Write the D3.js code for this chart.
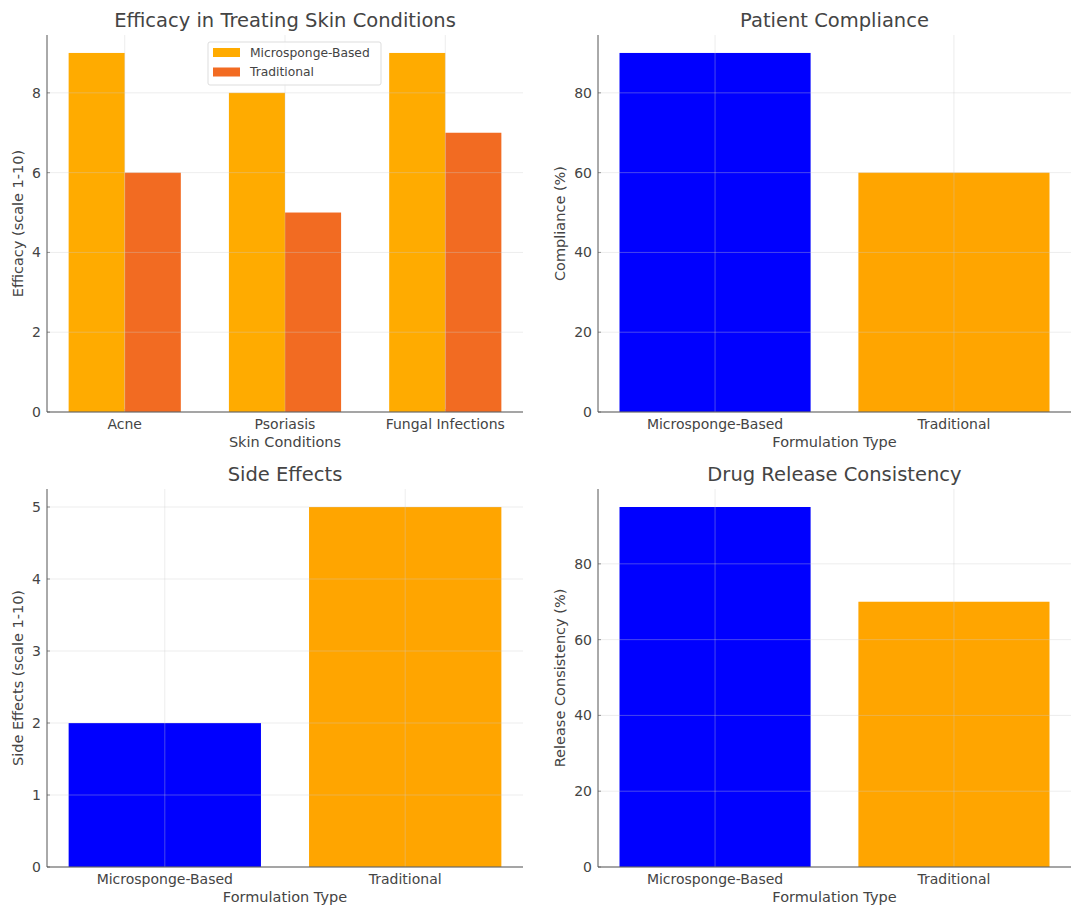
<!DOCTYPE html>
<html>
<head>
<meta charset="utf-8">
<script src="https://cdn.jsdelivr.net/npm/d3@7"></script>
<style>
  body { margin: 0; background: #fff; }
  svg text { font-family: "DejaVu Sans", sans-serif; fill: #444; }
</style>
</head>
<body>
<div id="container"></div>
<script>
// ---- data ----
const conditions = ["Acne", "Psoriasis", "Fungal Infections"];
const efficacyMicro = [9, 8, 9];
const efficacyTrad = [6, 5, 7];
const formulations = ["Microsponge-Based", "Traditional"];
const compliance = [90, 60];
const sideEffects = [2, 5];
const releaseConsistency = [95, 70];

const width = 1084, height = 909;
const svg = d3.select("#container").append("svg")
  .attr("width", width).attr("height", height);

// panel boxes (left, top, right, bottom)
const panels = [
  {x0: 47, x1: 523, y0: 35, y1: 412},
  {x0: 598, x1: 1071, y0: 35, y1: 412},
  {x0: 47, x1: 523, y0: 489, y1: 867},
  {x0: 598, x1: 1071, y0: 489, y1: 867},
];

const tickSize = 14;

const drawFrame = (p, x, y, yTicks, title, xLabel, yLabel, xTickVals, xTickFmt) => {
  const g = svg.append("g");

  // title
  g.append("text")
    .attr("x", (p.x0 + p.x1) / 2).attr("y", p.y0 - 8)
    .attr("text-anchor", "middle").attr("font-size", 19.5)
    .text(title);

  // y ticks
  let maxW = 0;
  yTicks.forEach(t => {
    const txt = g.append("text")
      .attr("x", p.x0 - 6).attr("y", y(t)).attr("dy", "0.35em")
      .attr("text-anchor", "end").attr("font-size", tickSize)
      .text(t);
    maxW = Math.max(maxW, txt.node().getComputedTextLength());
    g.append("line")
      .attr("x1", p.x0).attr("x2", p.x0 + 3)
      .attr("y1", y(t)).attr("y2", y(t))
      .attr("stroke", "#666").attr("stroke-width", 0.8);
  });

  // x ticks
  xTickVals.forEach((v, i) => {
    g.append("text")
      .attr("x", x(v)).attr("y", p.y1 + 12).attr("dy", "0.35em")
      .attr("text-anchor", "middle").attr("font-size", tickSize)
      .text(xTickFmt(v, i));
    g.append("line")
      .attr("x1", x(v)).attr("x2", x(v))
      .attr("y1", p.y1).attr("y2", p.y1 - 3)
      .attr("stroke", "#666").attr("stroke-width", 0.8);
  });

  // axis labels
  g.append("text")
    .attr("x", (p.x0 + p.x1) / 2).attr("y", p.y1 + 35)
    .attr("text-anchor", "middle").attr("font-size", 14.5)
    .text(xLabel);
  const lx = p.x0 - 6 - maxW - 9;
  g.append("text")
    .attr("transform", `translate(${lx},${(p.y0 + p.y1) / 2}) rotate(-90)`)
    .attr("text-anchor", "middle").attr("font-size", 14.5)
    .text(yLabel);
  return g;
};

const drawGridAndSpines = (p, x, y, yTicks, xTickVals) => {
  const g = svg.append("g");
  yTicks.forEach(t => {
    g.append("line")
      .attr("x1", p.x0).attr("x2", p.x1)
      .attr("y1", y(t)).attr("y2", y(t))
      .attr("stroke", "#ccc").attr("stroke-opacity", 0.35).attr("stroke-width", 1);
  });
  xTickVals.forEach(v => {
    g.append("line")
      .attr("x1", x(v)).attr("x2", x(v))
      .attr("y1", p.y0).attr("y2", p.y1)
      .attr("stroke", "#ccc").attr("stroke-opacity", 0.35).attr("stroke-width", 1);
  });
  g.append("line")
    .attr("x1", p.x0).attr("x2", p.x0).attr("y1", p.y0).attr("y2", p.y1)
    .attr("stroke", "#555").attr("stroke-width", 1);
  g.append("line")
    .attr("x1", p.x0).attr("x2", p.x1).attr("y1", p.y1).attr("y2", p.y1)
    .attr("stroke", "#555").attr("stroke-width", 1);
};

// ---------- Panel 1: grouped bars ----------
{
  const p = panels[0];
  const barW = 0.35;
  const x = d3.scaleLinear().domain([-0.485, 2.485]).range([p.x0, p.x1]);
  const y = d3.scaleLinear().domain([0, 9.45]).range([p.y1, p.y0]);
  const yTicks = [0, 2, 4, 6, 8];
  const idx = d3.range(conditions.length);

  drawFrame(p, x, y, yTicks, "Efficacy in Treating Skin Conditions",
    "Skin Conditions", "Efficacy (scale 1-10)", idx, (v, i) => conditions[i]);

  const series = [
    {name: "Microsponge-Based", values: efficacyMicro, color: "#FFAB00", off: -barW / 2},
    {name: "Traditional", values: efficacyTrad, color: "#F26B22", off: barW / 2},
  ];
  series.forEach(s => {
    svg.append("g").selectAll("rect")
      .data(s.values)
      .join("rect")
      .attr("x", (d, i) => x(i + s.off - barW / 2))
      .attr("width", x(barW) - x(0))
      .attr("y", d => y(d))
      .attr("height", d => y(0) - y(d))
      .attr("fill", s.color);
  });

  drawGridAndSpines(p, x, y, yTicks, idx);

  // legend
  const lg = svg.append("g").attr("transform", "translate(208,42)");
  lg.append("rect").attr("width", 173).attr("height", 43)
    .attr("fill", "#fff").attr("fill-opacity", 0.85)
    .attr("stroke", "#ddd").attr("rx", 2);
  series.forEach((s, i) => {
    lg.append("rect").attr("x", 5).attr("y", 6 + i * 19.5)
      .attr("width", 27).attr("height", 9).attr("fill", s.color);
    lg.append("text").attr("x", 42).attr("y", 10.5 + i * 19.5).attr("dy", "0.35em")
      .attr("font-size", 12.3).text(s.name);
  });
}

// ---------- Simple bar panels ----------
const simplePanel = (p, values, yMax, yTicks, title, yLabel) => {
  const barW = 0.8;
  const x = d3.scaleLinear().domain([-0.49, 1.49]).range([p.x0, p.x1]);
  const y = d3.scaleLinear().domain([0, yMax]).range([p.y1, p.y0]);
  const idx = d3.range(formulations.length);
  const colors = ["#0000FF", "#FFA500"];

  drawFrame(p, x, y, yTicks, title, "Formulation Type", yLabel, idx, (v, i) => formulations[i]);

  svg.append("g").selectAll("rect")
    .data(values)
    .join("rect")
    .attr("x", (d, i) => x(i - barW / 2))
    .attr("width", x(barW) - x(0))
    .attr("y", d => y(d))
    .attr("height", d => y(0) - y(d))
    .attr("fill", (d, i) => colors[i]);

  drawGridAndSpines(p, x, y, yTicks, idx);
};

simplePanel(panels[1], compliance, 94.5, [0, 20, 40, 60, 80], "Patient Compliance", "Compliance (%)");
simplePanel(panels[2], sideEffects, 5.25, [0, 1, 2, 3, 4, 5], "Side Effects", "Side Effects (scale 1-10)");
simplePanel(panels[3], releaseConsistency, 99.75, [0, 20, 40, 60, 80], "Drug Release Consistency", "Release Consistency (%)");
</script>
</body>
</html>
